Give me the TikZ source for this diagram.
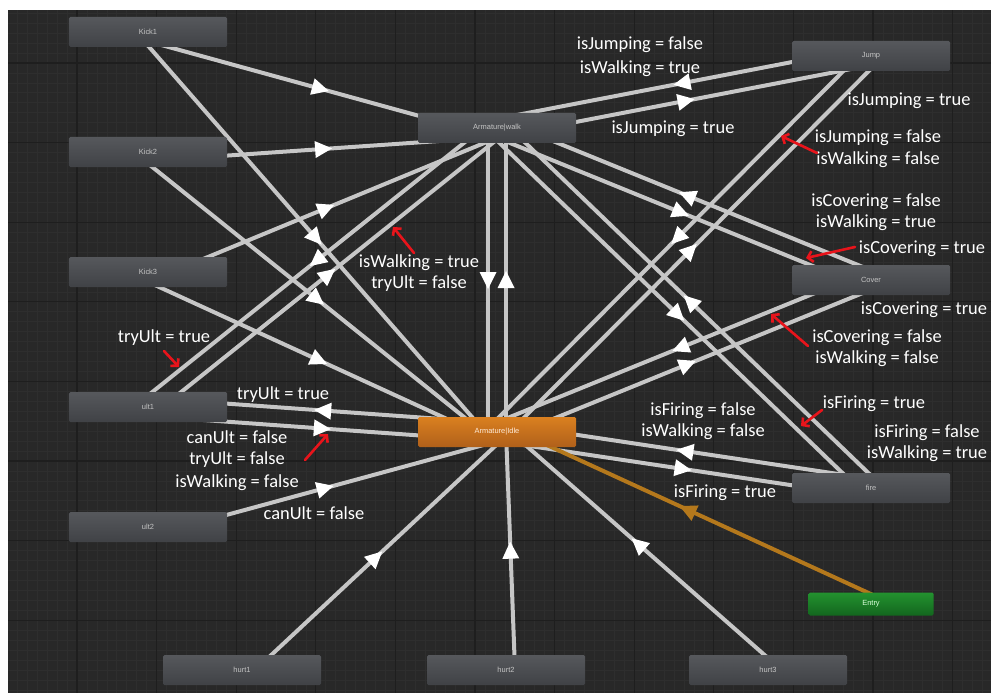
\documentclass[tikz,border=0pt]{standalone}
\usepackage{fontspec}
\setmainfont{Carlito}
\newfontfamily\statefont{Liberation Sans}
\usetikzlibrary{calc,arrows.meta,decorations.markings}

\definecolor{canvas}{HTML}{282828}
\definecolor{gridminor}{HTML}{2E2E2E}
\definecolor{gridmajor}{HTML}{1E1E1E}
\definecolor{linegray}{HTML}{C6C6C6}
\definecolor{statetop}{HTML}{56585C}
\definecolor{statebot}{HTML}{404246}
\definecolor{statetext}{HTML}{C4C4C4}
\definecolor{idletop}{HTML}{DA8020}
\definecolor{idlebot}{HTML}{B0601A}
\definecolor{entrytop}{HTML}{23922F}
\definecolor{entrybot}{HTML}{13661E}
\definecolor{entryline}{HTML}{B4781C}
\definecolor{notered}{HTML}{E8141B}

\pgfdeclarelayer{gridlayer}
\pgfdeclarelayer{edgelayer}
\pgfsetlayers{gridlayer,edgelayer,main}

% transition from state #2 to state #3, shifted to the right of its direction
\newcommand\transition[3][trans]{%
  \draw[#1] ($(#2.center)!9bp!-90:(#3.center)$) -- ($(#3.center)!9bp!90:(#2.center)$);}

\begin{document}
\begin{tikzpicture}[x=1bp,y=-1bp,
  state/.style={rectangle, rounded corners=1.5bp, minimum width=158bp,
    minimum height=30bp, inner sep=0pt, top color=statetop, bottom color=statebot,
    text=statetext, font=\statefont\fontsize{7.5}{9}\selectfont},
  idlestate/.style={state, top color=idletop, bottom color=idlebot, text=white!85!orange},
  entrystate/.style={state, minimum width=125bp, minimum height=23bp,
    top color=entrytop, bottom color=entrybot, text=white!85!green},
  trans/.style={line width=4bp, draw=linegray, postaction={decorate},
    decoration={markings, mark=at position 0.5 with
      {\fill[white] (-8bp,-8.5bp) -- (9bp,0bp) -- (-8bp,8.5bp) -- cycle;}}},
  entrytrans/.style={line width=4bp, draw=entryline, postaction={decorate},
    decoration={markings, mark=at position 0.5 with
      {\fill[entryline] (-8bp,-8.5bp) -- (9bp,0bp) -- (-8bp,8.5bp) -- cycle;}}},
  cond/.style={text=white, font=\fontsize{18.5}{20}\selectfont, inner sep=0pt},
  note/.style={draw=notered, line width=2.6bp, line cap=round,
    -{Straight Barb[length=5bp,width=11bp,line width=2.6bp]}}
]
\useasboundingbox (0,0) rectangle (991,693);

% canvas and grid
\begin{pgfonlayer}{gridlayer}
  \fill[canvas] (8,10) rectangle (991,693);
  \begin{scope}
    \clip (8,10) rectangle (991,693);
    \foreach \i in {-7,...,92} {
      \pgfmathsetmacro\gx{77+\i*9.95}
      \draw[gridminor, line width=0.7bp] (\gx,10) -- (\gx,693);
    }
    \foreach \i in {-5,...,63} {
      \pgfmathsetmacro\gy{63+\i*9.95}
      \draw[gridminor, line width=0.7bp] (8,\gy) -- (991,\gy);
    }
    \foreach \i in {0,...,11} {
      \pgfmathsetmacro\gx{77+\i*79.6}
      \draw[gridmajor, line width=1.2bp] (\gx,10) -- (\gx,693);
    }
    \foreach \i in {0,...,7} {
      \pgfmathsetmacro\gy{63+\i*79.6}
      \draw[gridmajor, line width=1.2bp] (8,\gy) -- (991,\gy);
    }
  \end{scope}
\end{pgfonlayer}

% states
\node[state] (kick1) at (148,32) {Kick1};
\node[state] (kick2) at (148,152) {Kick2};
\node[state] (kick3) at (148,272) {Kick3};
\node[state] (ult1) at (148,407) {ult1};
\node[state] (ult2) at (148,527) {ult2};
\node[state] (walk) at (497,128) {Armature|walk};
\node[idlestate] (idle) at (497,432) {Armature|Idle};
\node[state] (jump) at (871,56) {Jump};
\node[state] (cover) at (871,280) {Cover};
\node[state] (fire) at (871,488) {fire};
\node[entrystate] (entry) at (871,604) {Entry};
\node[state] (hurt1) at (242,670) {hurt1};
\node[state] (hurt2) at (506,670) {hurt2};
\node[state] (hurt3) at (768,670) {hurt3};

% transitions
\begin{pgfonlayer}{edgelayer}
  \transition{kick1}{walk}
  \transition{kick1}{idle}
  \transition{kick2}{walk}
  \transition{kick2}{idle}
  \transition{kick3}{walk}
  \transition{kick3}{idle}
  \transition{ult1}{walk}
  \transition{walk}{ult1}
  \transition{ult1}{idle}
  \transition{idle}{ult1}
  \transition{ult2}{idle}
  \transition{walk}{jump}
  \transition{jump}{walk}
  \transition{idle}{jump}
  \transition{jump}{idle}
  \transition{walk}{cover}
  \transition{cover}{walk}
  \transition{idle}{cover}
  \transition{cover}{idle}
  \transition{walk}{fire}
  \transition{fire}{walk}
  \transition{idle}{fire}
  \transition{fire}{idle}
  \transition{walk}{idle}
  \transition{idle}{walk}
  \transition{hurt1}{idle}
  \transition{hurt2}{idle}
  \transition{hurt3}{idle}
  \transition[entrytrans]{entry}{idle}
\end{pgfonlayer}

% conditions
\node[cond] (c1) at (640,45) {isJumping = false};
\node[cond] (c2) at (640,69) {isWalking = true};
\node[cond] (c3) at (673,129) {isJumping = true};
\node[cond] (c4) at (909,101) {isJumping = true};
\node[cond] (c5) at (878,138) {isJumping = false};
\node[cond] (c6) at (878,160) {isWalking = false};
\node[cond] (c7) at (876,202) {isCovering = false};
\node[cond] (c8) at (876,223) {isWalking = true};
\node[cond] (c9) at (922,249) {isCovering = true};
\node[cond] (c10) at (924,310) {isCovering = true};
\node[cond] (c11) at (877,338) {isCovering = false};
\node[cond] (c12) at (877,359) {isWalking = false};
\node[cond] (c13) at (874,404) {isFiring = true};
\node[cond] (c14) at (927,433) {isFiring = false};
\node[cond] (c15) at (927,454) {isWalking = true};
\node[cond] (c16) at (703,411) {isFiring = false};
\node[cond] (c17) at (703,432) {isWalking = false};
\node[cond] (c18) at (725,493) {isFiring = true};
\node[cond] (c19) at (419,263) {isWalking = true};
\node[cond] (c20) at (419,284) {tryUlt = false};
\node[cond] (c21) at (164,338) {tryUlt = true};
\node[cond] (c22) at (283,395) {tryUlt = true};
\node[cond] (c23) at (237,437) {canUlt = false};
\node[cond] (c24) at (237,460) {tryUlt = false};
\node[cond] (c25) at (237,483) {isWalking = false};
\node[cond] (c26) at (314,513) {canUlt = false};

% red pointers
\coordinate (p1a) at (164,351); \coordinate (p1b) at (179,367);
\coordinate (p2a) at (414,253); \coordinate (p2b) at (393,227);
\coordinate (p3a) at (305,460); \coordinate (p3b) at (328,434);
\coordinate (p4a) at (817,153); \coordinate (p4b) at (781,136);
\coordinate (p5a) at (855,247); \coordinate (p5b) at (806,258);
\coordinate (p6a) at (808,346); \coordinate (p6b) at (771,314);
\coordinate (p7a) at (822,410); \coordinate (p7b) at (801,426);
\draw[note] (p1a) -- (p1b);
\draw[note] (p2a) -- (p2b);
\draw[note] (p3a) -- (p3b);
\draw[note] (p4a) -- (p4b);
\draw[note] (p5a) -- (p5b);
\draw[note] (p6a) -- (p6b);
\draw[note] (p7a) -- (p7b);

% white page margin round the canvas
\fill[white] (0,0) rectangle (991,10);
\fill[white] (0,0) rectangle (8,693);
\end{tikzpicture}
\end{document}
